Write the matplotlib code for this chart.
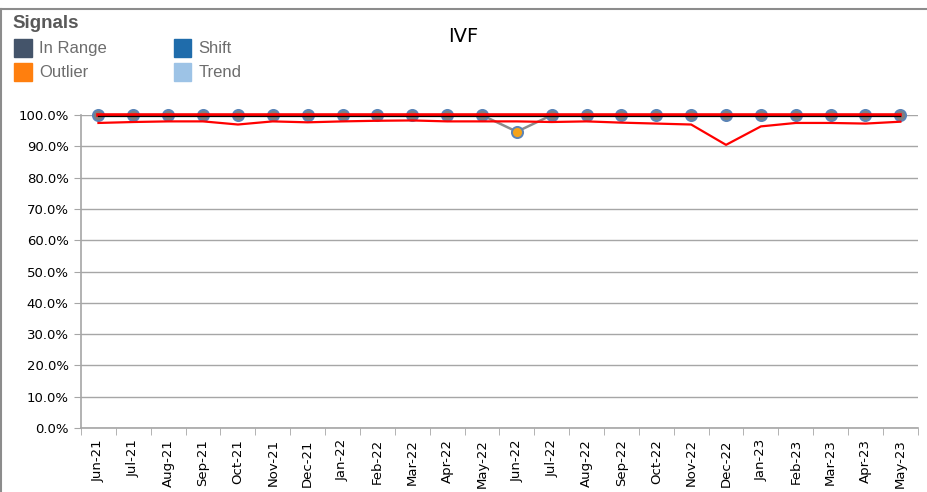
import matplotlib.pyplot as plt
import matplotlib.patches as ptc
from matplotlib.lines import Line2D
from matplotlib.ticker import FixedLocator, PercentFormatter

months = ["Jun-21", "Jul-21", "Aug-21", "Sep-21", "Oct-21", "Nov-21", "Dec-21",
          "Jan-22", "Feb-22", "Mar-22", "Apr-22", "May-22", "Jun-22", "Jul-22",
          "Aug-22", "Sep-22", "Oct-22", "Nov-22", "Dec-22", "Jan-23", "Feb-23",
          "Mar-23", "Apr-23", "May-23"]
# monthly rate (fraction)
rate = [1.0, 1.0, 1.0, 1.0, 1.0, 1.0, 1.0, 1.0, 1.0, 1.0, 1.0, 1.0, 0.947,
        1.0, 1.0, 1.0, 1.0, 1.0, 1.0, 1.0, 1.0, 1.0, 1.0, 1.0]
signal = ["In Range"] * 12 + ["Outlier"] + ["In Range"] * 11
centre = [0.998] * 24
upper_limit = [1.0] * 24
lower_limit = [0.975, 0.978, 0.980, 0.980, 0.970, 0.980, 0.977, 0.980, 0.982,
               0.983, 0.980, 0.980, 0.980, 0.978, 0.980, 0.976, 0.973, 0.970,
               0.905, 0.964, 0.975, 0.975, 0.973, 0.979]

signal_colors = {"In Range": "#44546a", "Shift": "#1f6cab",
                 "Outlier": "#ff7f0e", "Trend": "#9dc3e6"}
marker_fill = {"In Range": "#7f7f7f", "Outlier": "#f5a31a"}

fig = plt.figure(figsize=(9.28, 4.92), dpi=100)
ax = fig.add_axes([0.0873, 0.130, 0.9017, 0.636])

x = list(range(len(months)))
ax.plot(x, rate, color="#8c8c8c", lw=1.8, zorder=2)
for xi, v, s in zip(x, rate, signal):
    ax.plot(xi, v, "o", ms=8, mfc=marker_fill[s], mec="#5b84b6", mew=1.4, zorder=3,
            clip_on=False)
ax.plot(x, upper_limit, color="#ff0000", lw=2.6, zorder=4, clip_on=False)
ax.plot(x, centre, color="black", lw=0.9, zorder=5)
ax.plot(x, lower_limit, color="#ff0000", lw=1.6, zorder=4)

ax.set_xlim(-0.5, len(months) - 0.5)
ax.set_ylim(0, 1.0)
ax.yaxis.set_major_locator(FixedLocator([i / 10 for i in range(11)]))
ax.yaxis.set_major_formatter(PercentFormatter(1.0, decimals=1))
ax.grid(axis="y", color="#a6a6a6", lw=1.0)
ax.set_axisbelow(True)

ax.set_xticks(x)
ax.set_xticklabels(months, rotation=90, fontsize=9.5, family="DejaVu Sans")
ax.set_xticks([i - 0.5 for i in range(len(months) + 1)], minor=True)
ax.tick_params(axis="x", which="major", length=0, pad=8)
ax.tick_params(axis="x", which="minor", length=5, color="#a6a6a6")
ax.tick_params(axis="y", length=5, color="#a6a6a6", labelsize=9.5, pad=4)
for lab in ax.get_yticklabels():
    lab.set_family("DejaVu Sans")

for side in ["top", "right"]:
    ax.spines[side].set_visible(False)
for side in ["left", "bottom"]:
    ax.spines[side].set_color("#a6a6a6")
    ax.spines[side].set_linewidth(1.2)

fig.text(0.499, 0.925, "IVF", ha="center", va="center", fontsize=14)

# signals key
fig.text(0.013, 0.952, "Signals", fontsize=13.5, weight="bold", color="#595959",
         family="Liberation Sans", va="center")
keys = [("In Range", 0.013, 0.902), ("Shift", 0.185, 0.902),
        ("Outlier", 0.013, 0.853), ("Trend", 0.185, 0.853)]
for name, kx, ky in keys:
    fig.patches.append(ptc.Rectangle((kx + 0.002, ky - 0.017), 0.019, 0.035,
                                     transform=fig.transFigure,
                                     color=signal_colors[name]))
    fig.text(kx + 0.029, ky, name, fontsize=12, color="#6d6d6d",
             family="Liberation Sans", va="center")

# outer frame
fig.add_artist(Line2D([0, 1], [0.982, 0.982], transform=fig.transFigure,
                      color="#8c8c8c", lw=1.5))
fig.add_artist(Line2D([0.0015, 0.0015], [0, 0.982], transform=fig.transFigure,
                      color="#8c8c8c", lw=1.5))

fig.savefig("out.png", dpi=100)
